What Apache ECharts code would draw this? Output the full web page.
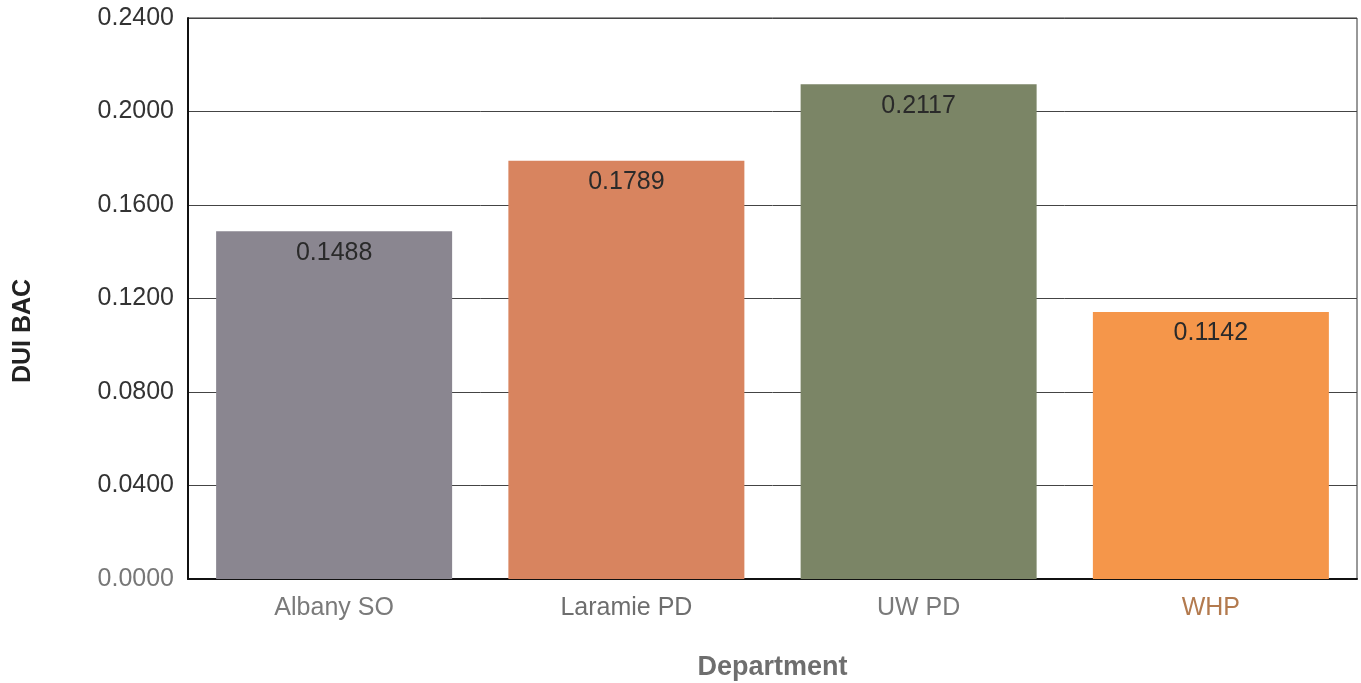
<!DOCTYPE html>
<html>
<head>
<meta charset="utf-8">
<script src="https://cdn.jsdelivr.net/npm/echarts@6/dist/echarts.min.js"></script>
<style>
  html, body { margin: 0; padding: 0; background: #fff; }
  #chart-container { width: 1361px; height: 683px; }
</style>
</head>
<body>
<div id="chart-container"></div>
<script>
// departamentos e valores
var departamentos = ['Albany SO', 'Laramie PD', 'UW PD', 'WHP'];
var valores = [0.1488, 0.1789, 0.2117, 0.1142];
var cores = ['#8a8690', '#d8845f', '#7b8566', '#f5964a'];
var coresRotulo = ['#7a7a7a', '#6e6e6e', '#7a7a7a', '#b37a4e'];

var dom = document.getElementById('chart-container');
var myChart = echarts.init(dom, null, { renderer: 'canvas' });

var option = {
    animation: false,
    grid: {
        left: 188, right: 4, top: 18, bottom: 104,
        outerBoundsMode: 'none',
        show: true, borderColor: '#333', borderWidth: 1
    },
    graphic: [{
        type: 'text',
        x: 23, y: 331,
        rotation: Math.PI / 2,
        style: {
            text: 'DUI BAC',
            fontFamily: 'Liberation Sans', fontSize: 25, fontWeight: 'bold',
            fill: '#222', align: 'center', verticalAlign: 'middle'
        }
    }],
    xAxis: {
        type: 'category',
        data: departamentos,
        name: 'Department',
        nameLocation: 'middle',
        nameGap: 75,
        nameTextStyle: { fontFamily: 'Liberation Sans', fontSize: 27, fontWeight: 'bold', color: '#6e6e6e' },
        axisLine: { lineStyle: { color: '#111', width: 2 } },
        axisTick: { show: false },
        axisLabel: {
            fontFamily: 'Liberation Sans', fontSize: 25, margin: 17,
            color: function (v, i) { return coresRotulo[i]; }
        }
    },
    yAxis: {
        type: 'value',
        min: 0, max: 0.24, interval: 0.04,
        axisLine: { show: true, lineStyle: { color: '#111', width: 2 } },
        axisTick: { show: false },
        splitLine: { lineStyle: { color: '#444', width: 1 } },
        axisLabel: {
            fontFamily: 'Liberation Sans', fontSize: 25, margin: 14,
            formatter: function (v) { return v.toFixed(4); },
            color: function (v) { return v == 0 ? '#777' : '#333'; }
        }
    },
    series: [{
        type: 'bar',
        barWidth: 236,
        data: valores.map(function (v, i) {
            return { value: v, itemStyle: { color: cores[i] } };
        }),
        label: {
            show: true,
            position: 'insideTop',
            distance: 9,
            fontFamily: 'Liberation Sans',
            fontSize: 25,
            color: '#2a2a2a',
            formatter: function (p) { return p.value.toFixed(4); }
        }
    }]
};

myChart.setOption(option);
window.addEventListener('resize', myChart.resize);
</script>
</body>
</html>
